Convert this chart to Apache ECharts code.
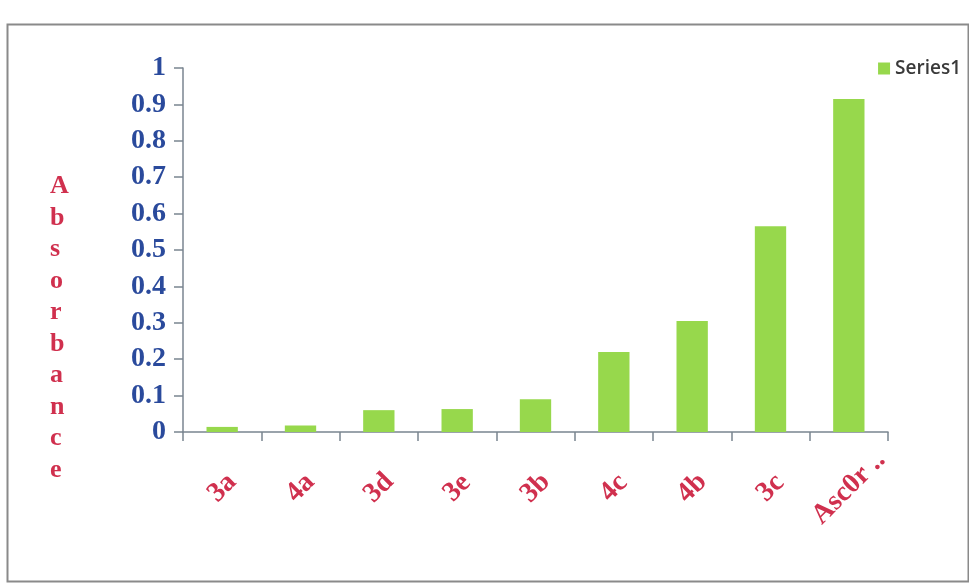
<!DOCTYPE html>
<html><head><meta charset="utf-8">
<script src="https://cdn.jsdelivr.net/npm/echarts@6/dist/echarts.min.js"></script>
<style>html,body{margin:0;padding:0;background:#fff}#c{width:969px;height:585px}</style>
</head><body><div id="c"></div>
<script>
var categories = ['3a','4a','3d','3e','3b','4c','4b','3c','Asc0r ..'];
var values = [0.014, 0.018, 0.06, 0.063, 0.09, 0.22, 0.305, 0.565, 0.915];
var seriesName = 'Series1';
var yTitleLetters = ['A','b','s','o','r','b','a','n','c','e'];

var chart = echarts.init(document.getElementById('c'));
chart.setOption({
  backgroundColor: '#fff',
  animation: false,
  grid: {left: 183, right: 81, top: 68, bottom: 153},
  legend: {
    data: [seriesName], right: 3, top: 54, icon: 'rect', itemWidth: 12, itemHeight: 12, itemGap: 5,
    textStyle: {fontFamily: 'Open Sans', fontWeight: 600, fontSize: 19, color: '#3a3a3a'}
  },
  xAxis: {
    type: 'category', data: categories,
    axisLine: {lineStyle: {color: '#7a8590', width: 1.5}},
    axisTick: {show: true, length: 9, lineStyle: {color: '#7a8590', width: 1.5}},
    axisLabel: {rotate: 45, margin: 56, interval: 0, align: 'center', verticalAlign: 'middle',
      color: '#d0304e', fontFamily: 'Liberation Serif', fontWeight: 'bold', fontSize: 28}
  },
  yAxis: {
    type: 'value', min: 0, max: 1, interval: 0.1,
    splitLine: {show: false},
    axisLine: {show: true, lineStyle: {color: '#7a8590', width: 1.5}},
    axisTick: {show: true, inside: false, length: 9, lineStyle: {color: '#7a8590', width: 1.5}},
    axisLabel: {margin: 17, color: '#2a4a9c', fontFamily: 'Liberation Serif', fontWeight: 'bold', fontSize: 28}
  },
  graphic: [
    {type: 'rect', left: 5, top: 22, shape: {width: 961, height: 557},
      style: {fill: 'none', stroke: '#8a8a8a', lineWidth: 2}},
    {type: 'text', left: 50, top: 171, style: {
      text: yTitleLetters.join('\n'), fill: '#d0304e', fontFamily: 'Liberation Serif',
      fontWeight: 'bold', fontSize: 26, lineHeight: 31.5, align: 'center'}}
  ],
  series: [{
    name: seriesName, type: 'bar', data: values, barWidth: '40%',
    itemStyle: {color: '#97d84c'}
  }]
});
</script></body></html>
